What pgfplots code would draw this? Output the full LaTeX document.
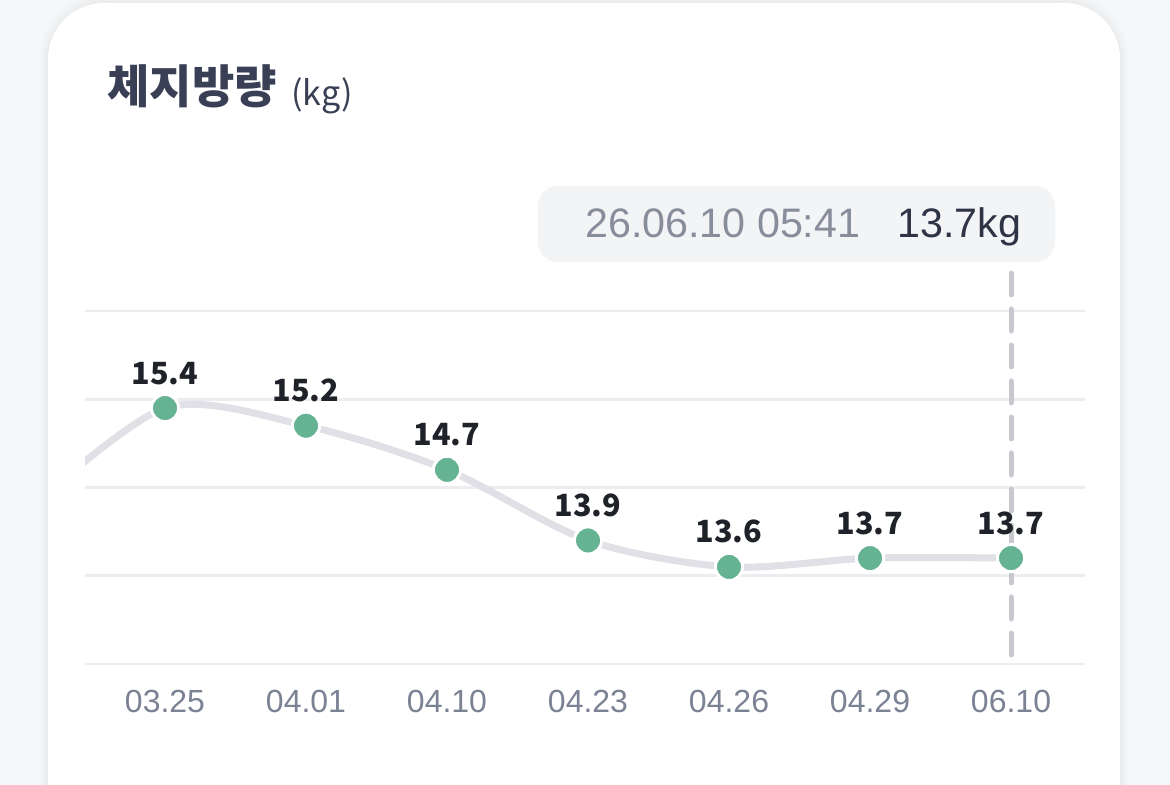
\documentclass[border=0pt]{standalone}
\usepackage{pgfplots}
\pgfplotsset{compat=1.18}
\usepackage{fontspec}
\setmainfont{Liberation Sans}
\newfontfamily\cjk{Noto Sans CJK KR}
\definecolor{bg}{HTML}{F6F7F9}
\definecolor{titlec}{HTML}{394055}
\definecolor{tickc}{HTML}{7B8293}
\definecolor{tipbg}{HTML}{F3F4F6}
\definecolor{tipdate}{HTML}{878D9B}
\definecolor{tipval}{HTML}{2E3446}
\definecolor{labc}{HTML}{1F2229}
\definecolor{markc}{HTML}{66B394}
\definecolor{linec}{HTML}{E0E0E6}
\definecolor{gridc}{HTML}{EDEDF0}
\definecolor{dashc}{HTML}{C8C9CF}
\begin{document}
\begin{tikzpicture}
\useasboundingbox (0,0) rectangle (585pt,392.5pt);
\clip (0,0) rectangle (585pt,392.5pt);
\begin{scope}[x=0.5pt,y=-0.5pt,yshift=392.5pt]
  \fill[bg] (0,0) rectangle (1170,785);
  \foreach \e/\o in {8/0.008,6/0.01,4/0.012,2/0.015}{
    \fill[black,opacity=\o,rounded corners=30pt] (48-\e,3-\e) rectangle (1120+\e,840+\e);
  }
  \fill[white,rounded corners=28pt] (48,3) rectangle (1120,840);
\end{scope}
\begin{axis}[
  at={(42.5pt,60.5pt)}, anchor=south west,
  scale only axis, width=500pt, height=198.56pt,
  xmin=-0.5674, xmax=6.5248, ymin=12.5, ymax=17,
  axis line style={draw=none},
  tick style={draw=none},
  xtick={0,1,2,3,4,5,6},
  xticklabels={03.25,04.01,04.10,04.23,04.26,04.29,06.10},
  xticklabel style={anchor=base, yshift=-24.5pt, text=tickc, font=\fontsize{16}{18}\selectfont},
  ytick={12.5,13.5,14.5,15.5,16.5},
  yticklabels={},
  ymajorgrids,
  grid style={color=gridc, line width=1.3pt},
]
\addplot[dashc, line width=2.5pt, line cap=round, dash pattern=on 11pt off 7pt] coordinates {(6,12.602) (6,16.965)};
\addplot[linec, line width=3.5pt, smooth, no marks] coordinates {
(-1,14.2) (0,15.4) (1,15.2) (2,14.7) (3,13.9) (4,13.6) (5,13.7) (6,13.7)};
\addplot[only marks, mark=*, mark size=6.8pt, mark options={fill=markc, draw=white, line width=1.5pt},
  nodes near coords, point meta=explicit symbolic,
  every node near coord/.append style={anchor=base, yshift=12pt, text=labc, font=\cjk\bfseries\fontsize{15.3}{18}\selectfont}]
coordinates {(0,15.4)[15.4] (1,15.2)[15.2] (2,14.7)[14.7] (3,13.9)[13.9] (4,13.6)[13.6] (5,13.7)[13.7] (6,13.7)[13.7]};
\end{axis}
\begin{scope}[x=0.5pt,y=-0.5pt,yshift=392.5pt]
  \node[anchor=base west, inner sep=0, text=titlec, font=\cjk\bfseries\fontsize{23}{26}\selectfont] at (107,104) {체지방량};
  \node[anchor=base west, inner sep=0, text=titlec, font=\cjk\fontsize{17}{20}\selectfont] at (291,106) {(kg)};
  \fill[tipbg, rounded corners=10pt] (538,186) rectangle (1055,262);
  \node[anchor=base west, inner sep=0, text=tipdate, font=\fontsize{20.6}{22}\selectfont] at (585,238) {26.06.10 05:41};
  \node[anchor=base west, inner sep=0, text=tipval, font=\fontsize{20.6}{22}\selectfont] at (897,238) {13.7kg};
\end{scope}
\end{tikzpicture}
\end{document}
